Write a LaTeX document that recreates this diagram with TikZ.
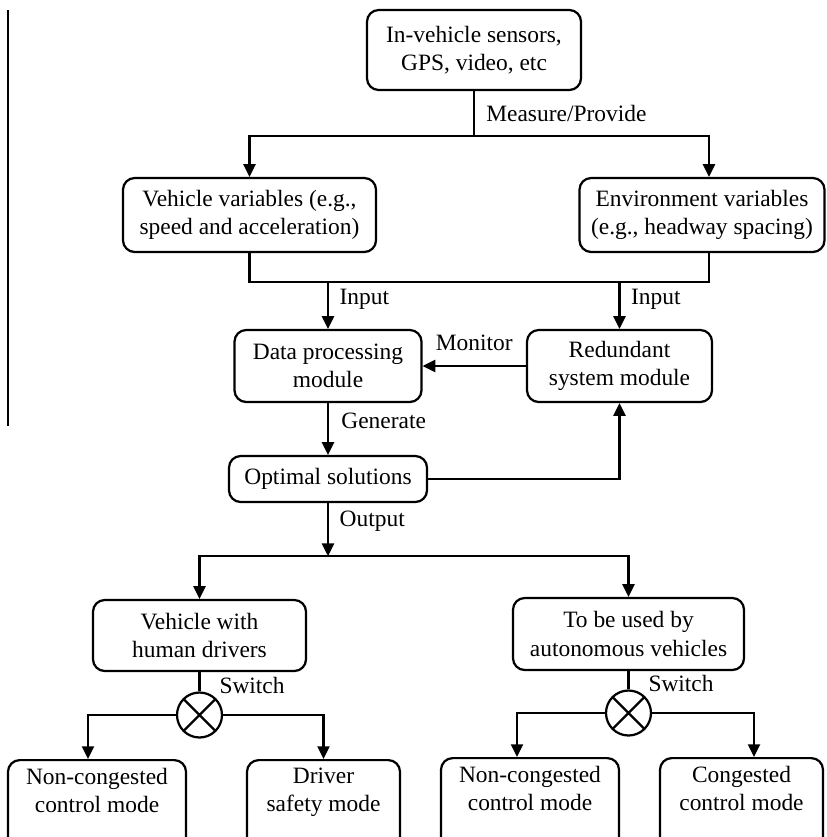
\documentclass[tikz,border=0pt]{standalone}
\usepackage{fontspec}
\setmainfont{Liberation Serif}
\usetikzlibrary{arrows.meta}

\begin{document}
\begin{tikzpicture}[x=0.03cm, y=-0.03cm, line width=1.9pt,
  >={Triangle[width=0.36cm,length=0.38cm]},
  font=\fontsize{20}{24}\selectfont,
  box/.style={draw, rounded corners=0.35cm, align=center, inner sep=2pt},
  swcircle/.style={draw, circle, minimum size=1.35cm, inner sep=0pt,
    path picture={\draw (path picture bounding box.north west) -- (path picture bounding box.south east)
                        (path picture bounding box.south west) -- (path picture bounding box.north east);}}]
  % 0. 画面の範囲 (826 x 837)
  \useasboundingbox (0,0) rectangle (826,837);
  \clip (0,0) rectangle (826,837);
  \draw (8,10) -- (8,426);

  % 1. 上段のボックス
  \node[box, minimum width=6.42cm, minimum height=2.4cm] (sens) at (474,50) {In-vehicle sensors,\\GPS, video, etc};
  \node[box, minimum width=7.59cm, minimum height=2.22cm] (veh) at (249.5,215) {Vehicle variables (e.g.,\\speed and acceleration)};
  \node[box, minimum width=7.35cm, minimum height=2.22cm] (env) at (702,215) {Environment variables\\(e.g., headway spacing)};

  % 2. 中段のボックス
  \node[box, minimum width=5.61cm, minimum height=2.16cm] (dpm) at (328,366) {Data processing\\module};
  \node[box, minimum width=5.55cm, minimum height=2.16cm] (red) at (619.5,366) {Redundant\\system module};
  \node[box, minimum width=5.94cm, minimum height=1.38cm] (opt) at (328,479) {Optimal solutions};

  % 3. 下段のボックスとスイッチ
  \node[box, minimum width=6.39cm, minimum height=2.13cm] (hum) at (199.5,635.5) {Vehicle with\\human drivers};
  \node[box, minimum width=6.93cm, minimum height=2.16cm] (aut) at (628.5,634) {To be used by\\autonomous vehicles};
  \node[swcircle] (sw1) at (199.5,715) {};
  \node[swcircle] (sw2) at (628.5,713) {};
  \node[box, anchor=north, inner ysep=7pt, minimum width=5.34cm, text depth=1.3cm] (nc1) at (97,759) {Non-congested\\control mode};
  \node[box, anchor=north, inner ysep=7pt, minimum width=4.59cm, text depth=1.3cm] (drv) at (323.5,759) {Driver\\safety mode};
  \node[box, anchor=north, inner ysep=7pt, minimum width=5.34cm, text depth=1.3cm] (nc2) at (530,757) {Non-congested\\control mode};
  \node[box, anchor=north, inner ysep=7pt, minimum width=4.89cm, text depth=1.3cm] (cong) at (741.5,757) {Congested\\control mode};

  % 4. 計測・入力
  \draw (sens.south) -- ++(0,45) node[midway, right=0.22cm] {Measure/Provide} coordinate (split1);
  \draw[->] (split1) -| (veh.north);
  \draw[->] (split1) -| ([xshift=0.21cm]env.north);
  \draw (veh.south) -- ++(0,29) coordinate (bus) -| ([xshift=0.21cm]env.south);
  \draw[->] (dpm.north |- bus) -- (dpm.north) node[pos=0.37, right=0.2cm] {Input};
  \draw[->] (red.north |- bus) -- (red.north) node[pos=0.37, right=0.2cm] {Input};

  % 5. 処理と監視
  \draw[->] (red.west) -- (dpm.east) node[midway, above=0.3cm] {Monitor};
  \draw[->] (dpm.south) -- (opt.north) node[pos=0.35, right=0.25cm] {Generate};
  \draw[->] (opt.east) -| (red.south);

  % 6. 出力と切替
  \draw[->] (opt.south) -- ++(0,53) node[pos=0.35, right=0.2cm] {Output} coordinate (split2);
  \draw[->] (split2) -| (hum.north);
  \draw[->] (split2) -| (aut.north);
  \draw (hum.south) -- (sw1.north) node[pos=0.7, right=0.45cm] {Switch};
  \draw (aut.south) -- (sw2.north) node[pos=0.7, right=0.45cm] {Switch};
  \draw[->] (sw1.west) -| ([xshift=-0.27cm]nc1.north);
  \draw[->] (sw1.east) -| (drv.north);
  \draw[->] (sw2.west) -| ([xshift=-0.39cm]nc2.north);
  \draw[->] (sw2.east) -| ([xshift=0.375cm]cong.north);

\end{tikzpicture}
\end{document}
